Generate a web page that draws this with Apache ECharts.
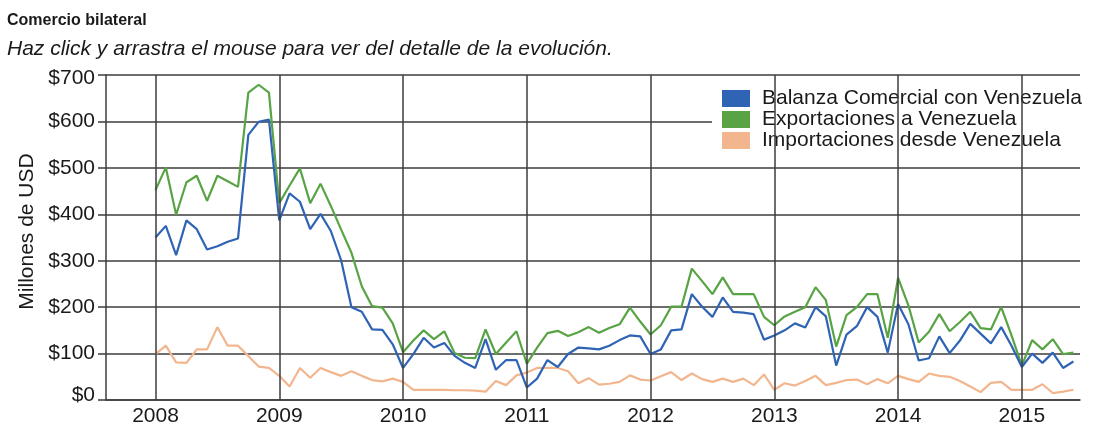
<!DOCTYPE html>
<html><head><meta charset="utf-8">
<script src="https://cdn.jsdelivr.net/npm/echarts@6/dist/echarts.min.js"></script>
<style>html,body{margin:0;padding:0;background:#fff}#c{width:1111px;height:427px}</style>
</head><body><div id="c"></div>
<script>
const startYear = 2008;
const yearTicks = [2008, 2009, 2010, 2011, 2012, 2013, 2014, 2015];
const yTicks = [0, 100, 200, 300, 400, 500, 600, 700];
const seriesNames = ['Balanza Comercial con Venezuela', 'Exportaciones a Venezuela', 'Importaciones desde Venezuela'];

// monthly values, Jan 2008 .. Jun 2015 (millones de USD)
const balanza = [
  350, 375, 312, 387, 368, 324, 331, 341, 348, 571, 599, 604,
  387, 445, 427, 368, 401, 364, 301, 200, 190, 152, 151, 120,
  69, 99, 134, 113, 123, 95, 80, 69, 131, 65, 86, 86,
  27, 46, 86, 71, 99, 113, 111, 109, 117, 129, 139, 137,
  99, 109, 150, 152, 228, 201, 179, 221, 190, 188, 185, 130,
  139, 150, 165, 156, 200, 180, 74, 141, 159, 200, 179, 102,
  207, 163, 85, 90, 137, 101, 128, 164, 143, 122, 157, 117,
  71, 100, 80, 102, 69, 83
];
const exportaciones = [
  452, 501, 399, 469, 483, 429, 483, 471, 459, 662, 679, 662,
  424, 462, 499, 424, 466, 418, 367, 317, 245, 202, 199, 165,
  103, 128, 150, 131, 148, 101, 91, 90, 152, 99, 124, 148,
  78, 113, 144, 149, 138, 146, 157, 145, 155, 163, 199, 169,
  141, 161, 201, 201, 283, 256, 228, 264, 228, 228, 228, 179,
  161, 180, 190, 200, 243, 215, 115, 183, 200, 228, 228, 134,
  263, 204, 124, 147, 185, 148, 168, 190, 155, 152, 200, 139,
  74, 129, 109, 131, 99, 102
];
const importaciones = [
  99, 117, 81, 80, 109, 109, 157, 117, 117, 95, 72, 69,
  52, 29, 69, 48, 69, 60, 52, 62, 52, 43, 40, 46,
  39, 22, 22, 22, 22, 21, 21, 20, 18, 41, 32, 53,
  59, 69, 69, 69, 62, 36, 47, 33, 35, 39, 53, 44,
  42, 51, 60, 43, 57, 45, 39, 46, 39, 46, 32, 55,
  22, 36, 31, 41, 52, 32, 37, 43, 44, 34, 45, 36,
  52, 45, 39, 57, 52, 50, 41, 29, 17, 37, 39, 22,
  22, 22, 34, 15, 18, 22
];

const colors = ['#2f64b4', '#58a444', '#f2b68e'];
const toPairs = arr => arr.map((v, i) => [startYear + i / 12, v]);
const FONT = '"Liberation Sans", Arial, sans-serif';
const GRID = '#3c3c3c';
const TXT = '#1a1a1a';

const chart = echarts.init(document.getElementById('c'), null, {renderer: 'canvas'});
chart.setOption({
  animation: false,
  backgroundColor: '#fff',
  textStyle: {fontFamily: FONT},
  title: {
    text: 'Comercio bilateral',
    subtext: 'Haz click y arrastra el mouse para ver del detalle de la evolución.',
    left: 7, top: 13, itemGap: 10, padding: 0,
    textStyle: {fontSize: 16, fontWeight: 'bold', color: TXT, fontFamily: FONT},
    subtextStyle: {fontSize: 21, fontStyle: 'italic', color: TXT, fontFamily: FONT}
  },
  legend: {
    orient: 'vertical', left: 712, top: 83,
    padding: [5, 8, 5, 10],
    backgroundColor: '#fff',
    icon: 'rect', itemWidth: 28, itemHeight: 17, itemGap: 0,
    textStyle: {fontSize: 21, color: TXT, fontFamily: FONT, padding: [0, 0, 0, 7], lineHeight: 19},
    data: seriesNames
  },
  grid: {left: 106, right: 31, top: 75, bottom: 18.3, containLabel: false},
  xAxis: {
    type: 'value', min: 2007.6, max: 2015.47, minInterval: 1, maxInterval: 1,
    axisLine: {show: true, lineStyle: {color: GRID, width: 1.5}},
    axisTick: {show: false},
    axisLabel: {fontSize: 21, color: TXT, margin: 6, showMinLabel: false, showMaxLabel: false,
      formatter: v => (yearTicks.indexOf(Math.round(v)) >= 0 && Math.abs(v - Math.round(v)) < 1e-6) ? String(Math.round(v)) : ''},
    splitLine: {show: false}
  },
  yAxis: {
    type: 'value', min: yTicks[0], max: yTicks[yTicks.length - 1], interval: 100,
    name: 'Millones de USD', nameLocation: 'middle', nameGap: 64, nameRotate: 90,
    nameTextStyle: {fontSize: 21, color: TXT, fontFamily: FONT, padding: [0, 0, 0, 12]},
    axisLine: {show: true, lineStyle: {color: GRID, width: 1.5}},
    axisTick: {show: true, length: 8, lineStyle: {color: GRID, width: 1.5}},
    axisLabel: {fontSize: 21, color: TXT, margin: 11, verticalAlign: 'middle',
      formatter: v => v === yTicks[yTicks.length - 1] ? '{t|$' + v + '}' : (v === yTicks[0] ? '{b|$' + v + '}' : '$' + v),
      rich: {
        t: {fontSize: 21, color: TXT, fontFamily: FONT, padding: [6, 0, 0, 0]},
        b: {fontSize: 21, color: TXT, fontFamily: FONT, padding: [0, 0, 10, 0]}
      }},
    splitLine: {show: true, lineStyle: {color: GRID, width: 1.5}}
  },
  series: [
    {name: seriesNames[0], type: 'line', data: toPairs(balanza), showSymbol: false, color: colors[0], lineStyle: {width: 2.2}, z: 4},
    {name: seriesNames[1], type: 'line', data: toPairs(exportaciones), showSymbol: false, color: colors[1], lineStyle: {width: 2.2}, z: 3},
    {name: seriesNames[2], type: 'line', data: toPairs(importaciones), showSymbol: false, color: colors[2], lineStyle: {width: 2.2}, z: 2},
    {name: 'years', type: 'line', data: [], z: 1, silent: true,
      markLine: {silent: true, symbol: 'none', label: {show: false},
        lineStyle: {color: GRID, width: 1.5, type: 'solid'},
        data: yearTicks.map(y => ({xAxis: y}))}}
  ]
});
</script></body></html>
